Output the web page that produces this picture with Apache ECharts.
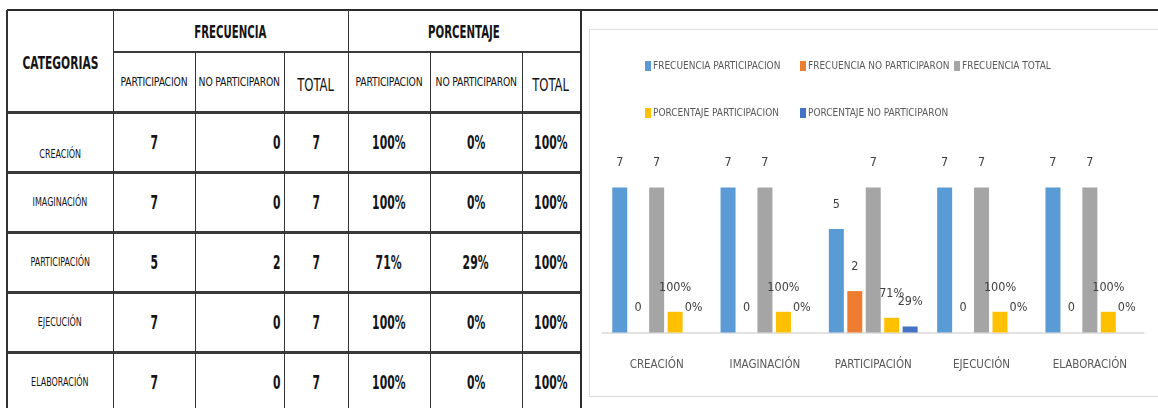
<!DOCTYPE html>
<html>
<head>
<meta charset="utf-8">
<script src="https://cdn.jsdelivr.net/npm/echarts@6/dist/echarts.min.js"></script>
<style>
  html, body { margin: 0; padding: 0; background: #fff; }
  body { width: 1158px; height: 408px; position: relative; overflow: hidden;
         font-family: "DejaVu Sans Condensed", "Liberation Sans Narrow", "Liberation Sans", sans-serif; }
  .ln { position: absolute; background: #333; }
  .cell { position: absolute; display: flex; align-items: center; justify-content: center; color: #141414; box-sizing: border-box; white-space: nowrap; }
  .cell span { display: inline-block; }
  #frame { position: absolute; left: 589px; top: 29px; width: 600px; height: 368px; border: 1.5px solid #dcdcdc; box-sizing: border-box; }
  #chart { position: absolute; left: 581px; top: 0; width: 577px; height: 408px; }
</style>
</head>
<body>
<div id="table"></div>
<div id="frame"></div>
<div id="chart"></div>
<script>
// ---- data ----
const categories = ['CREACIÓN', 'IMAGINACIÓN', 'PARTICIPACIÓN', 'EJECUCIÓN', 'ELABORACIÓN'];
const freqParticipacion = [7, 7, 5, 7, 7];
const freqNoParticiparon = [0, 0, 2, 0, 0];
const freqTotal = [7, 7, 7, 7, 7];
const pctParticipacion = [1, 1, 0.71, 1, 1];
const pctNoParticiparon = [0, 0, 0.29, 0, 0];
const pctTotal = [1, 1, 1, 1, 1];
const groupHeaders = ['FRECUENCIA', 'PORCENTAJE'];
const subHeaders = ['PARTICIPACION', 'NO PARTICIPARON', 'TOTAL', 'PARTICIPACION', 'NO PARTICIPARON', 'TOTAL'];
const categoryHeader = 'CATEGORIAS';
const seriesNames = ['FRECUENCIA PARTICIPACION', 'FRECUENCIA NO PARTICIPARON', 'FRECUENCIA TOTAL',
                     'PORCENTAJE PARTICIPACION', 'PORCENTAJE NO PARTICIPARON'];

const pct = v => Math.round(v * 100) + '%';

// ---- table (layout) ----
const colX = [7, 113, 195, 284, 348, 430, 522, 580];
const rowY = [112, 172, 232, 292, 352, 412];
const tbl = document.getElementById('table');
function line(x, y, w, h, c) {
  const d = document.createElement('div'); d.className = 'ln';
  d.style.left = x + 'px'; d.style.top = y + 'px'; d.style.width = w + 'px'; d.style.height = h + 'px';
  if (c) d.style.background = c;
  tbl.appendChild(d);
}
function cell(x0, x1, y0, y1, text, css, sx, origin) {
  const d = document.createElement('div'); d.className = 'cell';
  d.style.left = x0 + 'px'; d.style.top = y0 + 'px'; d.style.width = (x1 - x0) + 'px'; d.style.height = (y1 - y0) + 'px';
  Object.assign(d.style, css || {});
  const s = document.createElement('span');
  s.textContent = text;
  s.style.transform = 'scaleX(' + (sx || 1) + ')';
  s.style.transformOrigin = origin || 'center';
  d.appendChild(s);
  tbl.appendChild(d);
}
// header cells
cell(colX[0], colX[1], 10, 112, categoryHeader, { fontWeight: 'bold', fontSize: '18px', paddingTop: '2px' }, 0.66);
cell(colX[1], colX[4], 10, 52, groupHeaders[0], { fontWeight: 'bold', fontSize: '18px', paddingTop: '1px' }, 0.63);
cell(colX[4], colX[7], 10, 52, groupHeaders[1], { fontWeight: 'bold', fontSize: '18px', paddingTop: '1px' }, 0.63);
subHeaders.forEach((t, i) => {
  const big = t === 'TOTAL';
  cell(colX[i + 1], colX[i + 2], 52, 112, t,
       { fontSize: big ? '18px' : '12px', letterSpacing: big ? '0' : '-0.2px', paddingTop: big ? '5px' : '0' },
       big ? 0.72 : 0.86);
});
// data cells
categories.forEach((c, r) => {
  const y0 = rowY[r], y1 = rowY[r + 1];
  cell(colX[0], colX[1], y0, y1, c, { fontSize: '12px', paddingTop: r === 0 ? '24px' : '0' }, 0.74);
  const b = { fontWeight: 'bold', fontSize: '20px' };
  const sx = 0.6;
  cell(colX[1], colX[2], y0, y1, String(freqParticipacion[r]), b, sx);
  cell(colX[2], colX[3], y0, y1, String(freqNoParticiparon[r]), Object.assign({ justifyContent: 'flex-end', paddingRight: '3px' }, b), sx, 'right');
  cell(colX[3], colX[4], y0, y1, String(freqTotal[r]), b, sx);
  cell(colX[4], colX[5], y0, y1, pct(pctParticipacion[r]), b, sx);
  cell(colX[5], colX[6], y0, y1, pct(pctNoParticiparon[r]), b, sx);
  cell(colX[6], colX[7], y0, y1, pct(pctTotal[r]), b, sx);
});
// lines
line(7, 9, 1151, 2, '#2b2b2b');               // top line across page
line(113, 51, 467, 2, '#3a3a3a');             // header split
rowY.slice(0, 5).forEach(y => line(7, y - 1, 573, 3, '#3a3a3a'));
line(6, 10, 2, 398, '#333');                   // left border
[113, 348].forEach(x => line(x, 10, 1, 398, '#333'));
[195, 284, 430, 522].forEach(x => line(x, 52, 1, 356, '#333'));
line(580, 10, 2, 398, '#2b2b2b');              // separator

// ---- chart ----
const chart = echarts.init(document.getElementById('chart'), null, { renderer: 'canvas' });
const FONT = '"DejaVu Sans Condensed", "Liberation Sans Narrow", "Liberation Sans", sans-serif';
const colors = ['#5B9BD5', '#ED7D31', '#A5A5A5', '#FFC000', '#4472C4'];
const values = [freqParticipacion, freqNoParticiparon, freqTotal, pctParticipacion, pctNoParticiparon];
const legendPos = [[64, 61], [219, 61], [373, 61], [64, 108], [219, 108]];

chart.setOption({
  animation: false,
  backgroundColor: 'transparent',
  color: colors,
  legend: seriesNames.map((n, i) => ({
    data: [n], left: legendPos[i][0], top: legendPos[i][1], padding: 0,
    icon: 'rect', itemWidth: 6, itemHeight: 10,
    textStyle: { color: '#595959', fontSize: 10, fontFamily: FONT, padding: [0, 0, 0, -3] }
  })),
  grid: { left: 21.5, right: 14, top: 187.5, bottom: 75.5 },
  xAxis: {
    type: 'category', data: categories,
    axisLine: { lineStyle: { color: '#d9d9d9', width: 1.5 } },
    axisTick: { show: false },
    axisLabel: { color: '#595959', fontSize: 11.5, fontFamily: FONT, margin: 27, interval: 0, hideOverlap: false }
  },
  yAxis: { type: 'value', min: 0, max: 7, show: false, splitLine: { show: false } },
  series: values.map((v, i) => ({
    name: seriesNames[i], type: 'bar', data: v,
    barWidth: 15, barGap: '23%',
    itemStyle: { color: colors[i] },
    label: {
      show: true, position: 'top', distance: 18,
      color: '#404040', fontSize: 12.5, fontFamily: FONT,
      formatter: i >= 3 ? (p => pct(p.value)) : '{c}'
    }
  }))
});
</script>
</body>
</html>
